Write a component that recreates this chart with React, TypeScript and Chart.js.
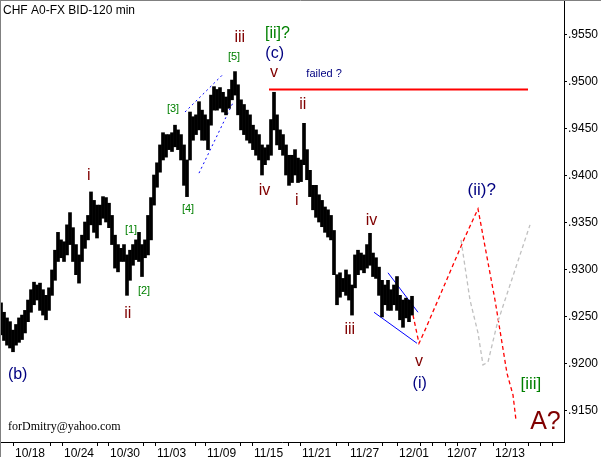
import React, { useEffect, useRef } from "react";
import { Chart, registerables } from "chart.js";
Chart.register(...registerables);

const SANS = "'Liberation Sans', Arial, sans-serif";
const SERIF = "'Liberation Serif', 'Times New Roman', serif";

// 120-min bars, sampled every 3 bars: bar index of first sample and step
const FIRST_BAR = 1;
const BAR_STEP = 3;

const highs = [
  0.9265, 0.9255, 0.9249, 0.9245, 0.9236, 0.9242, 0.9249, 0.9252, 0.9257, 0.9268,
  0.9279, 0.9287, 0.9284, 0.9286, 0.9279, 0.9273, 0.9281, 0.9300, 0.9321, 0.9340,
  0.9332, 0.9330, 0.9348, 0.9361, 0.9345, 0.9327, 0.9316, 0.9337, 0.9351, 0.9358,
  0.9383, 0.9374, 0.9369, 0.9369, 0.9378, 0.9377, 0.9371, 0.9358, 0.9337, 0.9327,
  0.9323, 0.9327, 0.9316, 0.9321, 0.9327, 0.9332, 0.9340, 0.9327, 0.9332, 0.9358,
  0.9377, 0.9401, 0.9414, 0.9433, 0.9446, 0.9444, 0.9444, 0.9446, 0.9454, 0.9449,
  0.9444, 0.9433, 0.9417, 0.9468, 0.9463, 0.9465, 0.9479, 0.9470, 0.9465, 0.9460,
  0.9486, 0.9495, 0.9492, 0.9494, 0.9489, 0.9484, 0.9492, 0.9502, 0.9511, 0.9497,
  0.9481, 0.9476, 0.9470, 0.9465, 0.9454, 0.9449, 0.9444, 0.9433, 0.9430, 0.9433,
  0.9460, 0.9489, 0.9465, 0.9449, 0.9444, 0.9433, 0.9422, 0.9422, 0.9428, 0.9419,
  0.9417, 0.9456, 0.9428, 0.9406, 0.9390, 0.9390, 0.9380, 0.9374, 0.9367, 0.9364,
  0.9358, 0.9342, 0.9295, 0.9297, 0.9291, 0.9300, 0.9295, 0.9284, 0.9316, 0.9321,
  0.9318, 0.9316, 0.9327, 0.9339, 0.9318, 0.9313, 0.9303, 0.9289, 0.9284, 0.9289,
  0.9279, 0.9284, 0.9293, 0.9273, 0.9268, 0.9270, 0.9268, 0.9272,
];
const lows = [
  0.9231, 0.9225, 0.9220, 0.9217, 0.9213, 0.9220, 0.9223, 0.9226, 0.9233, 0.9245,
  0.9255, 0.9263, 0.9268, 0.9257, 0.9252, 0.9247, 0.9257, 0.9273, 0.9289, 0.9309,
  0.9313, 0.9309, 0.9316, 0.9327, 0.9309, 0.9295, 0.9286, 0.9309, 0.9323, 0.9332,
  0.9348, 0.9340, 0.9334, 0.9348, 0.9355, 0.9351, 0.9345, 0.9327, 0.9302, 0.9298,
  0.9309, 0.9309, 0.9273, 0.9289, 0.9305, 0.9311, 0.9309, 0.9293, 0.9313, 0.9316,
  0.9332, 0.9369, 0.9388, 0.9404, 0.9417, 0.9420, 0.9428, 0.9426, 0.9431, 0.9428,
  0.9417, 0.9390, 0.9378, 0.9417, 0.9438, 0.9444, 0.9449, 0.9438, 0.9438, 0.9428,
  0.9454, 0.9470, 0.9470, 0.9472, 0.9468, 0.9465, 0.9472, 0.9481, 0.9486, 0.9465,
  0.9449, 0.9444, 0.9438, 0.9435, 0.9428, 0.9422, 0.9417, 0.9401, 0.9412, 0.9417,
  0.9422, 0.9449, 0.9433, 0.9428, 0.9422, 0.9401, 0.9390, 0.9393, 0.9401, 0.9393,
  0.9394, 0.9412, 0.9396, 0.9378, 0.9364, 0.9356, 0.9351, 0.9346, 0.9340, 0.9335,
  0.9332, 0.9295, 0.9263, 0.9271, 0.9277, 0.9273, 0.9268, 0.9252, 0.9281, 0.9295,
  0.9300, 0.9297, 0.9302, 0.9305, 0.9293, 0.9291, 0.9273, 0.9250, 0.9263, 0.9257,
  0.9257, 0.9263, 0.9257, 0.9247, 0.9239, 0.9249, 0.9245, 0.9252,
];

// Forecast paths (bar index, price)
const redPathBars = [413, 419, 425, 438, 465, 478, 495, 507, 513, 516];
const redPathPrices = [0.9252, 0.9222, 0.9236, 0.9268, 0.9335, 0.9365, 0.9268, 0.919, 0.9167, 0.914];
const grayPathBars = [461, 470, 478, 483, 488, 497, 505, 530];
const grayPathPrices = [0.9332, 0.9268, 0.9233, 0.9199, 0.9202, 0.9242, 0.9268, 0.9348];

// Channel / wedge lines
const channelUpperBars = [185, 222];
const channelUpperPrices = [0.9468, 0.9507];
const channelLowerBars = [199, 233];
const channelLowerPrices = [0.9403, 0.9478];
const wedgeUpperBars = [388, 418];
const wedgeUpperPrices = [0.9297, 0.9255];
const wedgeLowerBars = [374, 417];
const wedgeLowerPrices = [0.9255, 0.9222];
const failedBars = [269, 528];
const failedPrices = [0.9492, 0.9492];

// Axes
const yTickValues = [0.915, 0.92, 0.925, 0.93, 0.935, 0.94, 0.945, 0.95, 0.955];
const dateLabels = ["10/18", "10/24", "10/30", "11/03", "11/09", "11/15", "11/21", "11/27", "12/01", "12/07", "12/13"];
const dateLabelBars = [13, 62, 108, 155, 205, 252, 300, 348, 397, 445, 493];
const minorTickBars = [50, 97, 143, 195, 240, 288, 337, 382, 420, 432, 457, 480, 505, 528, 540, 552];

const DARKRED = "#800000";
const GREEN = "#008000";
const NAVY = "#000080";

type Note = { text: string; bar: number; price: number; color: string; size: number; family?: string; left?: boolean };
const notes: Note[] = [
  { text: "CHF A0-FX BID-120 min", bar: 3, price: 0.9577, color: "#000", size: 12, left: true },
  { text: "forDmitry@yahoo.com", bar: 8, price: 0.9133, color: "#000", size: 12, family: SERIF, left: true },
  { text: "(b)", bar: 18, price: 0.9189, color: NAVY, size: 16 },
  { text: "i", bar: 89, price: 0.9402, color: DARKRED, size: 16 },
  { text: "ii", bar: 128, price: 0.9255, color: DARKRED, size: 16 },
  { text: "[1]", bar: 131, price: 0.9343, color: GREEN, size: 11 },
  { text: "[2]", bar: 144, price: 0.9278, color: GREEN, size: 11 },
  { text: "[3]", bar: 173, price: 0.9471, color: GREEN, size: 11 },
  { text: "[4]", bar: 188, price: 0.9365, color: GREEN, size: 11 },
  { text: "[5]", bar: 234, price: 0.9526, color: GREEN, size: 11 },
  { text: "iii", bar: 240, price: 0.9549, color: DARKRED, size: 16 },
  { text: "[ii]?", bar: 278, price: 0.9552, color: GREEN, size: 16 },
  { text: "(c)", bar: 275, price: 0.953, color: NAVY, size: 16 },
  { text: "v", bar: 274, price: 0.951, color: DARKRED, size: 16 },
  { text: "failed ?", bar: 324, price: 0.951, color: NAVY, size: 11 },
  { text: "ii", bar: 303, price: 0.9478, color: DARKRED, size: 16 },
  { text: "iv", bar: 265, price: 0.9386, color: DARKRED, size: 16 },
  { text: "i", bar: 297, price: 0.9376, color: DARKRED, size: 16 },
  { text: "iv", bar: 372, price: 0.9354, color: DARKRED, size: 16 },
  { text: "iii", bar: 350, price: 0.9238, color: DARKRED, size: 16 },
  { text: "v", bar: 419, price: 0.9203, color: DARKRED, size: 16 },
  { text: "(i)", bar: 420, price: 0.9179, color: NAVY, size: 16 },
  { text: "(ii)?", bar: 482, price: 0.9385, color: NAVY, size: 17 },
  { text: "[iii]", bar: 531, price: 0.9178, color: GREEN, size: 17 },
  { text: "A?", bar: 545, price: 0.914, color: DARKRED, size: 25 },
];

const pts = (xs: number[], ys: number[]) => xs.map((x, i) => ({ x, y: ys[i] }));

const notesPlugin = {
  id: "notes",
  afterDatasetsDraw(chart: any) {
    const { ctx, scales } = chart;
    ctx.save();
    for (const n of notes) {
      ctx.font = `${n.size}px ${n.family ?? SANS}`;
      ctx.fillStyle = n.color;
      ctx.textAlign = "left";
      ctx.textBaseline = "alphabetic";
      const m = ctx.measureText(n.text);
      const px = scales.x.getPixelForValue(n.bar);
      const py = scales.y.getPixelForValue(n.price);
      const w = m.actualBoundingBoxLeft + m.actualBoundingBoxRight;
      const left = n.left ? px : px - w / 2;
      const base = py + (m.actualBoundingBoxAscent - m.actualBoundingBoxDescent) / 2;
      ctx.fillText(n.text, left + m.actualBoundingBoxLeft, base);
    }
    ctx.restore();
  },
};

const framePlugin = {
  id: "frame",
  afterDraw(chart: any) {
    const { ctx, width, height } = chart;
    ctx.save();
    ctx.strokeStyle = "#808080";
    ctx.lineWidth = 1;
    ctx.beginPath();
    ctx.moveTo(0, 0.5);
    ctx.lineTo(width, 0.5);
    ctx.moveTo(0.5, 0);
    ctx.lineTo(0.5, height);
    ctx.stroke();
    ctx.restore();
  },
};

export default function App() {
  const ref = useRef<HTMLCanvasElement | null>(null);
  useEffect(() => {
    if (!ref.current) return;
    const bars = highs.map((h, i) => ({ x: FIRST_BAR + i * BAR_STEP, y: [lows[i], h] }));
    const lineDs = (data: any, color: string, width: number, dash: number[]) => ({
      type: "line" as const,
      data,
      borderColor: color,
      borderWidth: width,
      borderDash: dash,
      pointRadius: 0,
      tension: 0,
      fill: false,
    });
    const chart = new Chart(ref.current, {
      type: "bar",
      data: {
        datasets: [
          {
            type: "bar",
            data: bars as any,
            backgroundColor: "#000",
            borderWidth: 0,
            barThickness: 3,
          } as any,
          lineDs(pts(failedBars, failedPrices), "#ff0000", 2, []),
          lineDs(pts(channelUpperBars, channelUpperPrices), "#0000ff", 1, [2, 3]),
          lineDs(pts(channelLowerBars, channelLowerPrices), "#0000ff", 1, [2, 3]),
          lineDs(pts(wedgeUpperBars, wedgeUpperPrices), "#0000ff", 1, []),
          lineDs(pts(wedgeLowerBars, wedgeLowerPrices), "#0000ff", 1, []),
          lineDs(pts(grayPathBars, grayPathPrices), "#c0c0c0", 1.3, [4, 3]),
          lineDs(pts(redPathBars, redPathPrices), "#ff0000", 1.3, [4, 3]),
        ],
      },
      options: {
        animation: false,
        responsive: false,
        devicePixelRatio: 1,
        layout: { padding: { top: 1, left: 0, right: 0, bottom: 0 } },
        plugins: { legend: { display: false }, tooltip: { enabled: false } },
        scales: {
          x: {
            type: "linear",
            min: 0,
            max: 564,
            offset: false,
            grid: { display: true, drawOnChartArea: false, drawTicks: true, tickLength: 4, tickColor: "#000", offset: false },
            border: { display: true, color: "#000", width: 1 },
            afterBuildTicks: (s: any) => {
              s.ticks = [...dateLabelBars, ...minorTickBars].sort((a, b) => a - b).map((v) => ({ value: v }));
            },
            afterFit: (s: any) => {
              s.height = 15;
              s.paddingLeft = 0;
              s.paddingRight = 0;
            },
            ticks: {
              autoSkip: false,
              maxRotation: 0,
              align: "start",
              labelOffset: 2,
              padding: 0,
              color: "#000",
              font: { family: SANS, size: 12 },
              callback: (v: any) => {
                const i = dateLabelBars.indexOf(Number(v));
                return i >= 0 ? dateLabels[i] : "";
              },
            },
          },
          y: {
            type: "linear",
            position: "right",
            min: 0.9117,
            max: 0.95861,
            grid: { display: true, drawOnChartArea: false, drawTicks: true, tickLength: 3, tickColor: "#000" },
            border: { display: true, color: "#000", width: 1 },
            afterBuildTicks: (s: any) => {
              s.ticks = yTickValues.map((v) => ({ value: v }));
            },
            afterFit: (s: any) => {
              s.width = 37;
              s.paddingTop = 0;
              s.paddingBottom = 0;
            },
            ticks: {
              padding: 1,
              color: "#000",
              font: { family: SANS, size: 12 },
              callback: (v: any) => Number(v).toFixed(4).slice(1),
            },
          },
        },
      } as any,
      plugins: [notesPlugin, framePlugin],
    });
    return () => chart.destroy();
  }, []);
  return (
    <div style={{ position: "absolute", left: 0, top: 0, width: 601, height: 457, background: "#fff" }}>
      <canvas ref={ref} width={601} height={457} style={{ display: "block" }} />
    </div>
  );
}
